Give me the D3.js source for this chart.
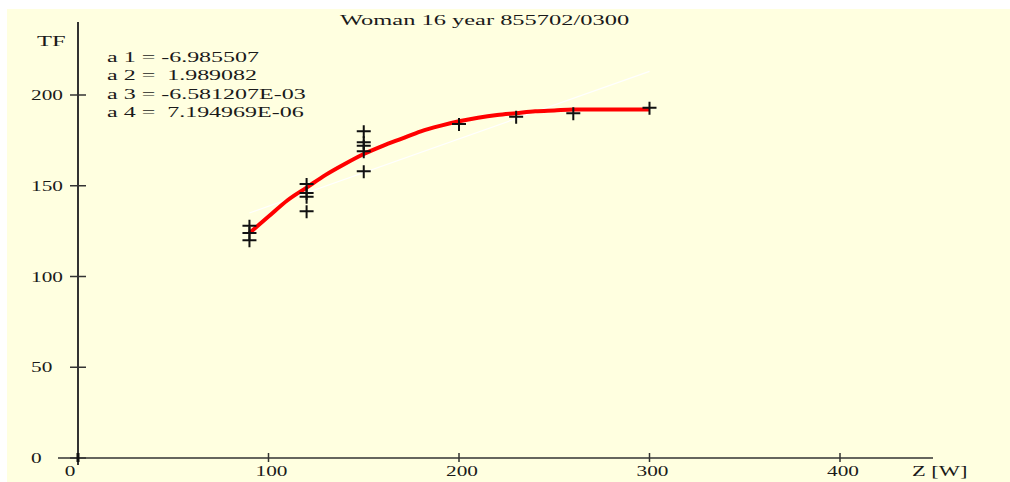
<!DOCTYPE html>
<html lang="en">
<head>
  <script src="https://d3js.org/d3.v7.min.js"></script>
  <style>
    body { margin: 0; background: #fff; }
    svg text { font-family: "Liberation Serif", serif; fill: #1a1a1a; white-space: pre; }
  </style>
</head>
<body>
<svg width="1010" height="482"></svg>
<script>
// measured points (Z [W] vs TF)
var pointX = [90, 90, 90, 120, 120, 120, 120, 150, 150, 150, 150, 150, 200, 230, 260, 300];
var pointY = [128, 124, 120, 151, 146, 144, 136, 180, 174, 172, 169, 158, 184, 188, 190, 193];

// red fitted curve
var fitX = [90, 100, 110, 120, 130, 140, 150, 160, 170, 180, 190, 200, 210, 220, 230, 240, 250, 260, 270, 280, 290, 300];
var fitY = [124, 133, 142, 149, 156, 162, 167.5, 172, 176, 180, 183, 185.5, 187.5, 189, 190, 191, 191.5, 192, 192, 192, 192, 192];

// faint white straight line
var lineX = [90, 300];
var lineY = [135, 213];

var xTicks = [0, 100, 200, 300, 400];
var yTicks = [0, 50, 100, 150, 200];
var params = ["a 1 = -6.985507", "a 2 =  1.989082", "a 3 = -6.581207E-03", "a 4 =  7.194969E-06"];
var title = "Woman 16 year 855702/0300";

var svg = d3.select("svg");
// the original bitmap is stretched sideways
var sxNum = 1.42, sxText = 1.63;

svg.append("rect")
   .attr("x", 7).attr("y", 9)
   .attr("width", 1003).attr("height", 473)
   .attr("fill", "#ffffe0");

var x = d3.scaleLinear().domain([0, 400]).range([78, 840]);
var y = d3.scaleLinear().domain([0, 200]).range([458, 95]);

function label(px, py, txt, anchor, sx) {
    return svg.append("text")
       .attr("transform", "translate(" + px + "," + py + ") scale(" + (sx || sxNum) + ",1)")
       .attr("text-anchor", anchor || "start")
       .attr("font-size", "15px")
       .text(txt);
}

// axes lines
svg.append("line")
   .attr("x1", x(0)).attr("x2", x(0))
   .attr("y1", 22).attr("y2", 465)
   .attr("stroke", "#333").attr("stroke-width", 2);
svg.append("line")
   .attr("x1", 58).attr("x2", 933)
   .attr("y1", y(0)).attr("y2", y(0))
   .attr("stroke", "#333").attr("stroke-width", 1.5);

// y ticks
svg.selectAll(".ytick")
   .data(yTicks)
   .enter().append("line")
   .attr("class", "ytick")
   .attr("x1", 70).attr("x2", 86)
   .attr("y1", function(d) { return y(d); })
   .attr("y2", function(d) { return y(d); })
   .attr("stroke", "#333").attr("stroke-width", 1.5);
yTicks.forEach(function(d) {
    label(31, y(d) + 5, d);
});

// x ticks
svg.selectAll(".xtick")
   .data(xTicks.slice(1))
   .enter().append("line")
   .attr("class", "xtick")
   .attr("x1", function(d) { return x(d); })
   .attr("x2", function(d) { return x(d); })
   .attr("y1", 453).attr("y2", 462)
   .attr("stroke", "#333").attr("stroke-width", 1.5);
svg.append("line")
   .attr("x1", x(0)).attr("x2", x(0))
   .attr("y1", 453).attr("y2", 462)
   .attr("stroke", "#111").attr("stroke-width", 3);
xTicks.forEach(function(d, i) {
    label(x(d) + (i == 0 ? -8 : 3), 476, d, "middle");
});

label(37, 46, "TF", "start", sxText);
label(912, 476, "Z [W]", "start", 1.5);
label(340, 25, title, "start", sxText);

params.forEach(function(p, i) {
    label(107, 62 + i * 18.3, p, "start", 1.6);
});

// white straight line
svg.append("line")
   .attr("x1", x(lineX[0])).attr("y1", y(lineY[0]))
   .attr("x2", x(lineX[1])).attr("y2", y(lineY[1]))
   .attr("stroke", "#ffffff").attr("stroke-width", 1.2);

// red curve
var fit = fitX.map(function(v, i) { return [v, fitY[i]]; });
svg.append("path")
   .datum(fit)
   .attr("fill", "none")
   .attr("stroke", "#ff0000")
   .attr("stroke-width", 4)
   .attr("d", d3.line()
       .x(function(d) { return x(d[0]); })
       .y(function(d) { return y(d[1]); })
       .curve(d3.curveMonotoneX));

// crosses
var pts = pointX.map(function(v, i) { return [v, pointY[i]]; });
svg.selectAll(".pt")
   .data(pts)
   .enter().append("path")
   .attr("class", "pt")
   .attr("fill", "none")
   .attr("stroke", "#111")
   .attr("stroke-width", 2)
   .attr("d", function(d) {
       var cx = x(d[0]), cy = y(d[1]);
       return "M" + (cx - 7) + "," + cy + "H" + (cx + 7) +
              "M" + cx + "," + (cy - 6) + "V" + (cy + 7);
   });
</script>
</body>
</html>
